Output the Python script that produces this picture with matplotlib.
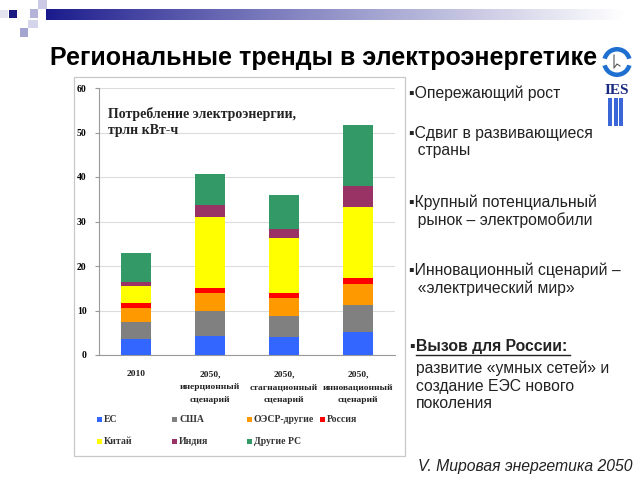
import numpy as np
import matplotlib
matplotlib.use("Agg")
import matplotlib.pyplot as plt
from matplotlib.patches import Rectangle, Wedge

# ---- data ----
categories = ["2010", "2050,\nинерционный\nсценарий", "2050,\nстагнационный\nсценарий", "2050,\nинновационный\nсценарий"]
series_names = ["ЕС", "США", "ОЭСР-другие", "Россия", "Китай", "Индия", "Другие РС"]
eu      = [3.5, 4.35, 4.1, 5.25]
usa     = [4.0, 5.45, 4.75, 6.05]
oecd    = [3.1, 4.2, 3.85, 4.75]
russia  = [1.0, 1.15, 1.25, 1.35]
china   = [3.9, 15.9, 12.45, 15.9]
india   = [1.0, 2.55, 1.95, 4.6]
others  = [6.4, 7.05, 7.65, 13.8]
series_values = [eu, usa, oecd, russia, china, india, others]
colors = ["#3366FF", "#808080", "#FF9900", "#FF0000", "#FFFF00", "#993366", "#339966"]
yticks = [0, 10, 20, 30, 40, 50, 60]

title = "Региональные тренды в электроэнергетике"
chart_title = "Потребление электроэнергии,\nтрлн кВт-ч"
bullets = [
    ("▪Опережающий рост", 93),
    ("▪Сдвиг в развивающиеся\n  страны", 142),
    ("▪Крупный потенциальный\n  рынок – электромобили", 211),
    ("▪Инновационный сценарий –\n  «электрический мир»", 279),
]
footer = "V. Мировая энергетика 2050"

W, H = 640, 480
fig = plt.figure(figsize=(6.4, 4.8), dpi=100)
fig.patch.set_facecolor("white")

# ---- overlay in pixel coordinates ----
ov = fig.add_axes([0, 0, 1, 1], zorder=0)
ov.set_xlim(0, W)
ov.set_ylim(H, 0)
ov.axis("off")

# gradient bar
grad = np.linspace(0, 1, 256) ** 0.9
c0 = np.array([0.10, 0.10, 0.55])
c1 = np.array([1.0, 1.0, 1.0])
img = (c0[None, :] * (1 - grad[:, None]) + c1[None, :] * grad[:, None])[None, :, :]
ov.imshow(img, extent=[46, 625, 20, 9], aspect="auto", zorder=1, interpolation="bilinear")
ov.set_xlim(0, W)
ov.set_ylim(H, 0)

# decorative squares
for (x, y, w, h, c) in [
    (9, 10, 8, 8, "#1a1a80"),
    (30, 9, 8, 9, "#b4b4da"),
    (38, 0, 9, 9, "#cacae6"),
    (28, 20, 10, 8, "#d4d4ea"),
    (20, 28, 8, 9, "#a4a4d0"),
    (0, 10, 8, 8, "#e4e4f0"),
]:
    ov.add_patch(Rectangle((x, y), w, h, facecolor=c, edgecolor="none", zorder=2))

# chart frame
ov.add_patch(Rectangle((74, 77), 331, 379, facecolor="none", edgecolor="#c8c8c8", lw=0.9, zorder=2))

# logo
ov.add_patch(Wedge((617, 62), 15, 15, 165, width=4.5, facecolor="#1f6fd0", edgecolor="none", zorder=3))
ov.add_patch(Wedge((617, 62), 15, 195, 345, width=4.5, facecolor="#1f6fd0", edgecolor="none", zorder=3))
ov.plot([614, 614, 617, 620], [55, 68, 64, 66], color="#555555", lw=0.8, zorder=3)
ov.text(617, 91, "IES", ha="center", va="center", fontsize=11, fontweight="bold",
        family="Liberation Serif", color="#1a2a80", zorder=3)
for bx in (608, 613.5, 619):
    ov.add_patch(Rectangle((bx, 98), 4, 28, facecolor="#3a66d8", edgecolor="none", zorder=3))

# title
ov.text(50, 58, title, ha="left", va="center", fontsize=18, fontweight="bold",
        family="Liberation Sans", color="black", zorder=3)

# bullets
bfam = ["Liberation Sans", "DejaVu Sans"]
for txt, y in bullets:
    ov.text(409, y, txt, ha="left", va="center", fontsize=11.3, family=bfam,
            color="#222222", linespacing=1.2, zorder=3)
ov.text(409, 347, "▪", ha="left", va="center", fontsize=11.3, family=bfam, color="#222222", zorder=3)
ov.text(416, 347, "Вызов для России:", ha="left", va="center", fontsize=11.3,
        family=bfam, fontweight="bold", color="#222222", zorder=3)
ov.plot([416, 570], [355, 355], color="#222222", lw=1.0, zorder=3)
ov.text(416, 386, "развитие «умных сетей» и\nсоздание ЕЭС нового\nпоколения", ha="left", va="center",
        fontsize=11.3, family=bfam, color="#222222", linespacing=1.2, zorder=3)
ov.text(418, 466, footer, ha="left", va="center", fontsize=11.3, family=bfam,
        style="italic", color="#222222", zorder=3)

# ---- chart ----
ax = fig.add_axes([99 / W, 1 - 355 / H, 296 / W, 267 / H], zorder=2)
ax.patch.set_alpha(0)
x = np.arange(len(categories))
bottom = np.zeros(len(categories))
for name, vals, col in zip(series_names, series_values, colors):
    ax.bar(x, vals, width=0.4, bottom=bottom, color=col, label=name, zorder=3)
    bottom += np.array(vals)

ax.set_xlim(-0.5, len(categories) - 0.5)
ax.set_ylim(0, 60)
ax.set_yticks(yticks)
ax.set_yticklabels([str(v) for v in yticks], family="Liberation Serif", fontweight="bold", fontsize=7)
ax.set_xticks(x)
ax.set_xticklabels(categories, family="Liberation Serif", fontweight="bold", fontsize=6.8,
                   linespacing=1.8, color="#222222")
ax.tick_params(axis="x", length=0, pad=11)
ax.tick_params(axis="y", length=3, color="#999999", pad=6)
ax.yaxis.grid(True, color="#dcdcdc", lw=0.8, zorder=0)
ax.set_axisbelow(True)
for s in ("top", "right"):
    ax.spines[s].set_visible(False)
ax.spines["left"].set_color("#999999")
ax.spines["bottom"].set_color("#999999")
ax.text(0.03, 0.93, chart_title, transform=ax.transAxes, ha="left", va="top",
        family="Liberation Serif", fontweight="bold", fontsize=10, linespacing=1.3, color="#222222")

# legend (manual layout)
leg_pos = [(97, 420), (172, 420), (247, 420), (320, 420), (97, 442), (172, 442), (247, 442)]
for (lx, ly), name, col in zip(leg_pos, series_names, colors):
    ov.add_patch(Rectangle((lx, ly - 3), 5, 5, facecolor=col, edgecolor="none", zorder=3))
    ov.text(lx + 7, ly, name, ha="left", va="center", family="Liberation Serif",
            fontweight="bold", fontsize=7, color="#333333", zorder=3)

fig.savefig("out.png", dpi=100)
